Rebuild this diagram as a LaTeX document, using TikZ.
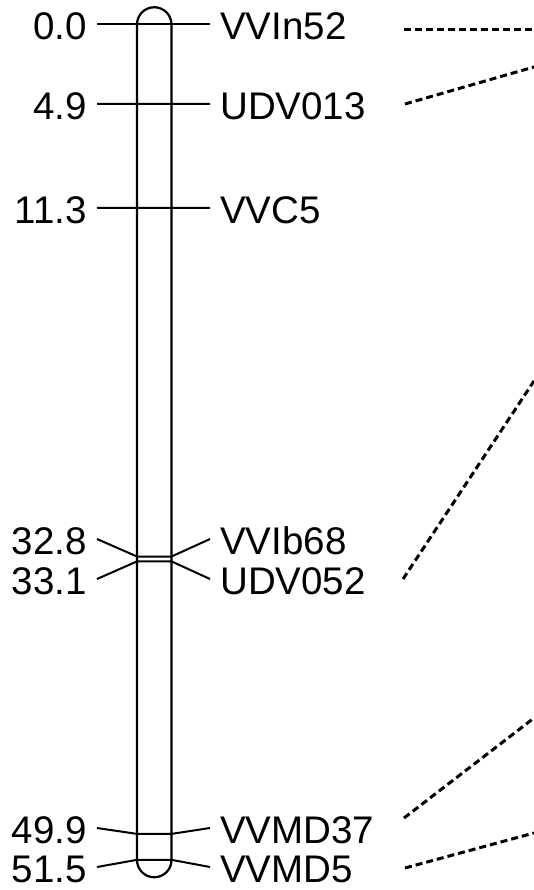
\documentclass[tikz,border=0pt]{standalone}
\usepackage{fontspec}
\setmainfont{Liberation Sans}
\usetikzlibrary{positioning}

\begin{document}
\begin{tikzpicture}[
    x=1pt, y=-1pt,
    every node/.style={font=\fontsize{38.5}{40}\selectfont, inner sep=0pt},
    chrom/.style={line width=2.2pt},
    tick/.style={line width=2pt},
    link/.style={line width=3pt, dash pattern=on 7pt off 4pt}
  ]
  \useasboundingbox (0,0) rectangle (534,890);

  % Chromosome bar
  \draw[chrom] (137,24.5) arc[start angle=180, end angle=360, radius=17.25]
    -- (171.5,860) arc[start angle=0, end angle=180, radius=17.25] -- cycle;

  % Markers: position / label y / name / id
  \foreach \pos/\ly/\mk/\id in {0.0/24.5/VVIn52/a, 4.9/104/UDV013/b, 11.3/208/VVC5/c,
      32.8/539/VVIb68/d, 33.1/579/UDV052/e, 49.9/828/VVMD37/f, 51.5/867/VVMD5/g} {
    \pgfmathsetmacro\cy{24.5+16.22*\pos}
    \draw[tick] (97,\ly) -- (137,\cy) -- (171.5,\cy) -- (210,\ly);
    \node[anchor=east] (pos-\id) at (87,\ly+2) {\pos};
    \node[anchor=west] (mk-\id) at (220,\ly+2) {\mk};
  }

  % Links to the next map
  \coordinate (s-a) at (404,30);  \coordinate (t-a) at (534,30);
  \coordinate (s-b) at (405,104); \coordinate (t-b) at (534,67);
  \coordinate (s-e) at (403,579); \coordinate (t-e) at (534,381);
  \coordinate (s-f) at (404,818); \coordinate (t-f) at (534,718);
  \coordinate (s-g) at (405,868); \coordinate (t-g) at (534,833);
  \foreach \id in {a,b,e,f,g}
    \draw[link] (s-\id) -- (t-\id);

\end{tikzpicture}
\end{document}
